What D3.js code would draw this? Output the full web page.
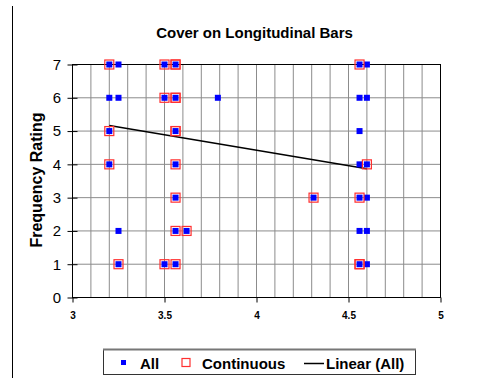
<!DOCTYPE html>
<html>
<head>
<meta charset="utf-8">
<script src="https://cdn.jsdelivr.net/npm/d3@7"></script>
<style>
  body { margin: 0; background: #fff; }
  text { font-family: Arial, "Liberation Sans", sans-serif; }
</style>
</head>
<body>
<svg id="chart" width="482" height="378"></svg>
<script>
// "All" points
var allX = [3.2, 3.25, 3.5, 3.56, 4.56, 4.6,
            3.2, 3.25, 3.5, 3.56, 3.79, 4.56, 4.6,
            3.2, 3.56, 4.56,
            3.2, 3.56, 4.56, 4.6,
            3.56, 4.31, 4.56, 4.6,
            3.25, 3.56, 3.62, 4.56, 4.6,
            3.25, 3.5, 3.56, 4.56, 4.6];
var allY = [7, 7, 7, 7, 7, 7,
            6, 6, 6, 6, 6, 6, 6,
            5, 5, 5,
            4, 4, 4, 4,
            3, 3, 3, 3,
            2, 2, 2, 2, 2,
            1, 1, 1, 1, 1];

// "Continuous" points (some repeat, which is why those boxes look heavier)
var contX = [3.2, 3.5, 3.56, 3.56, 4.56,
             3.5, 3.56, 3.56,
             3.2, 3.56, 3.56,
             3.2, 3.56, 4.6,
             3.56, 4.31, 4.56,
             3.56, 3.62,
             3.25, 3.5, 3.56, 4.56, 4.56];
var contY = [7, 7, 7, 7, 7,
             6, 6, 6,
             5, 5, 5,
             4, 4, 4,
             3, 3, 3,
             2, 2,
             1, 1, 1, 1, 1];

// Linear (All) trendline end points
var trendX = [3.2, 4.6];
var trendY = [5.17, 3.87];

var xTicks = [3, 3.5, 4, 4.5, 5];
var yTicks = [0, 1, 2, 3, 4, 5, 6, 7];

var svg = d3.select("#chart");

var plotLeft = 72.5, plotRight = 440.5, plotTop = 64.5, plotBottom = 297.5;
var x = d3.scaleLinear().domain([3, 5]).range([plotLeft, plotRight]);
var y = d3.scaleLinear().domain([0, 7]).range([plotBottom, plotTop]);

// outer chart border (only left edge visible)
svg.append("line")
    .attr("x1", 12.5).attr("x2", 12.5)
    .attr("y1", 6).attr("y2", 378)
    .attr("stroke", "#000").attr("stroke-width", 1);

// title
svg.append("text")
    .attr("x", 254.5).attr("y", 37.5)
    .attr("text-anchor", "middle")
    .style("font-size", "15px").style("font-weight", "bold")
    .text("Cover on Longitudinal Bars");

// grid
var grid = svg.append("g").attr("class", "grid");
grid.selectAll("line.v")
    .data(d3.range(31, 50).map(function(d) { return d / 10; }))
    .enter().append("line")
        .attr("class", "v")
        .attr("x1", function(d) { return x(d); })
        .attr("x2", function(d) { return x(d); })
        .attr("y1", plotTop).attr("y2", plotBottom)
        .attr("stroke", "#8c8c8c").attr("stroke-width", 1);
grid.selectAll("line.h")
    .data(yTicks.slice(1, 7))
    .enter().append("line")
        .attr("class", "h")
        .attr("x1", plotLeft).attr("x2", plotRight)
        .attr("y1", function(d) { return y(d); })
        .attr("y2", function(d) { return y(d); })
        .attr("stroke", "#8c8c8c").attr("stroke-width", 1);

// plot frame
svg.append("rect")
    .attr("x", plotLeft).attr("y", plotTop)
    .attr("width", plotRight - plotLeft).attr("height", plotBottom - plotTop)
    .attr("fill", "none").attr("stroke", "#000").attr("stroke-width", 1);

// y axis
var yAxis = svg.append("g")
    .attr("transform", "translate(" + plotLeft + ",0)")
    .call(d3.axisLeft(y).tickValues(yTicks).tickSize(5).tickPadding(6.5).tickFormat(d3.format("d")));
yAxis.select(".domain").remove();
yAxis.selectAll(".tick line").attr("x1", -5).attr("x2", 5).attr("stroke", "#000");
yAxis.selectAll(".tick text")
    .style("font-size", "15px").attr("fill", "#000");

// x axis
var xAxis = svg.append("g")
    .attr("transform", "translate(0," + plotBottom + ")")
    .call(d3.axisBottom(x).tickValues(xTicks).tickSize(5).tickPadding(9).tickFormat(d3.format("")));
xAxis.select(".domain").remove();
xAxis.selectAll(".tick line").attr("stroke", "#000");
xAxis.selectAll(".tick text")
    .style("font-size", "10px").style("font-weight", "bold").attr("fill", "#000");

// y label
svg.append("text")
    .attr("transform", "translate(42,180) rotate(-90)")
    .attr("text-anchor", "middle")
    .style("font-size", "16px").style("font-weight", "bold")
    .text("Frequency Rating");

// trendline
svg.append("path")
    .datum(d3.zip(trendX, trendY))
    .attr("fill", "none").attr("stroke", "#000").attr("stroke-width", 1.5)
    .attr("d", d3.line()
        .x(function(d) { return x(d[0]); })
        .y(function(d) { return y(d[1]); }));

// All points
svg.append("g").selectAll("rect")
    .data(d3.zip(allX, allY))
    .enter().append("rect")
        .attr("x", function(d) { return x(d[0]) - 3; })
        .attr("y", function(d) { return y(d[1]) - 3; })
        .attr("width", 6).attr("height", 6)
        .attr("fill", "#0000ff");

// Continuous points
svg.append("g").selectAll("rect")
    .data(d3.zip(contX, contY))
    .enter().append("rect")
        .attr("x", function(d) { return x(d[0]) - 4.5; })
        .attr("y", function(d) { return y(d[1]) - 4.5; })
        .attr("width", 9).attr("height", 9)
        .attr("fill", "none").attr("stroke", "#ff3030").attr("stroke-width", 1.2);

// legend
var lg = svg.append("g");
lg.append("rect")
    .attr("x", 103.5).attr("y", 349.5).attr("width", 312).attr("height", 25)
    .attr("fill", "#fff").attr("stroke", "#333").attr("stroke-width", 1);
lg.append("line").attr("x1", 103).attr("x2", 416).attr("y1", 349.5).attr("y2", 349.5)
    .attr("stroke", "#777").attr("stroke-width", 2);
lg.append("rect").attr("x", 121).attr("y", 360).attr("width", 5).attr("height", 5).attr("fill", "#0000ff");
lg.append("text").attr("x", 140).attr("y", 369)
    .style("font-size", "15px").style("font-weight", "bold").text("All");
lg.append("rect").attr("x", 182).attr("y", 358.5).attr("width", 8).attr("height", 8)
    .attr("fill", "none").attr("stroke", "#ff3030").attr("stroke-width", 1.2);
lg.append("text").attr("x", 202).attr("y", 369)
    .style("font-size", "15px").style("font-weight", "bold").text("Continuous");
lg.append("line").attr("x1", 304).attr("x2", 324).attr("y1", 363.5).attr("y2", 363.5)
    .attr("stroke", "#000").attr("stroke-width", 1.5);
lg.append("text").attr("x", 326).attr("y", 369)
    .style("font-size", "15px").style("font-weight", "bold").text("Linear (All)");
</script>
</body>
</html>
